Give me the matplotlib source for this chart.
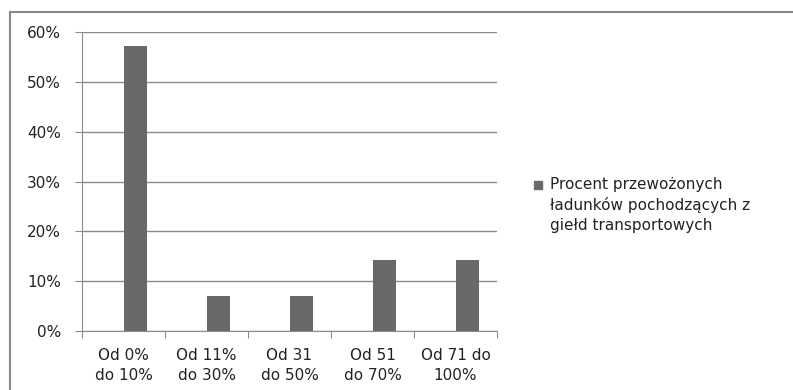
import numpy as np
import matplotlib.pyplot as plt
from matplotlib.lines import Line2D
from matplotlib.patches import Rectangle
from matplotlib.ticker import PercentFormatter

categories = ['Od 0%\ndo 10%', 'Od 11%\ndo 30%', 'Od 31\ndo 50%', 'Od 51\ndo 70%', 'Od 71 do\n100%']
values = [57.1, 7.1, 7.1, 14.3, 14.3]
series_name = 'Procent przewożonych\nładunków pochodzących z\ngiełd transportowych'

plt.rcParams['font.family'] = ['DejaVu Sans']
plt.rcParams['font.size'] = 11

W, H = 793, 390
fig = plt.figure(figsize=(W / 100, H / 100), dpi=100)
ax = fig.add_axes([82 / W, 1 - 331 / H, (497 - 82) / W, (331 - 32) / H])

bar_color = '#696969'
x = np.arange(len(categories))
ax.bar(x + 0.143, values, width=0.286, color=bar_color, zorder=3)

ax.set_xlim(-0.5, len(categories) - 0.5)
ax.set_ylim(0, 60)
ax.set_yticks(range(0, 61, 10))
ax.yaxis.set_major_formatter(PercentFormatter(decimals=0))
ax.grid(axis='y', color='#8c8c8c', linewidth=1, zorder=0)

ax.set_xticks(np.arange(len(categories) + 1) - 0.5)
ax.set_xticklabels([])
ax.set_xticks(x, minor=True)
ax.set_xticklabels(categories, minor=True, color='#222222', linespacing=1.42)
ax.tick_params(axis='x', which='major', length=5, color='#8c8c8c', direction='out')
ax.tick_params(axis='x', which='minor', length=0, pad=12)
ax.tick_params(axis='y', length=5, color='#8c8c8c', labelcolor='#222222', pad=10)

for s in ['top', 'right']:
    ax.spines[s].set_visible(False)
for s in ['left', 'bottom']:
    ax.spines[s].set_color('#8c8c8c')

# legend
fig.add_artist(Rectangle((534 / W, 1 - 189 / H), 8 / W, 8 / H, color=bar_color))
fig.text(550 / W, 1 - 177 / H, series_name, va='top', ha='left', color='#222222',
         fontsize=11, linespacing=1.42)

# outer chart border (top and left edges visible)
fig.add_artist(Line2D([10 / W, 1], [1 - 12 / H, 1 - 12 / H], color='#888888', linewidth=1.5))
fig.add_artist(Line2D([10 / W, 10 / W], [0, 1 - 12 / H], color='#888888', linewidth=1.5))

fig.savefig('out.png', dpi=100)
